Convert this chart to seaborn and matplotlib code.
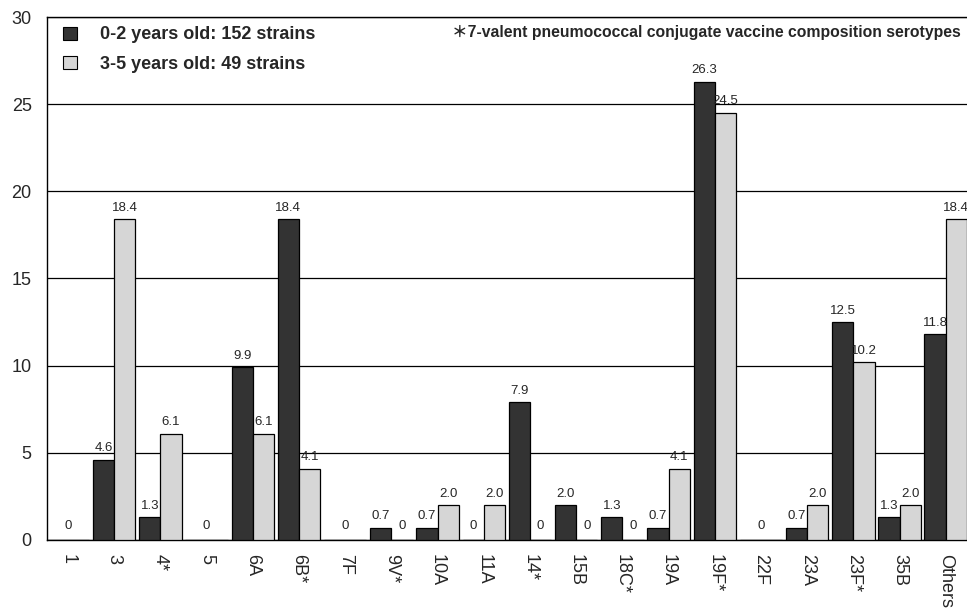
import matplotlib
matplotlib.use("Agg")
import matplotlib.pyplot as plt
import seaborn as sns
import pandas as pd
import numpy as np

serotypes = ["1", "3", "4*", "5", "6A", "6B*", "7F", "9V*", "10A", "11A",
             "14*", "15B", "18C*", "19A", "19F*", "22F", "23A", "23F*", "35B", "Others"]
age_0_2 = [0, 4.6, 1.3, 0, 9.9, 18.4, 0, 0.7, 0.7, 0,
           7.9, 2.0, 1.3, 0.7, 26.3, 0, 0.7, 12.5, 1.3, 11.8]
age_3_5 = [0, 18.4, 6.1, 0, 6.1, 4.1, 0, 0, 2.0, 2.0,
           0, 0, 0, 4.1, 24.5, 0, 2.0, 10.2, 2.0, 18.4]
group_labels = ["0-2 years old: 152 strains", "3-5 years old: 49 strains"]
note_text = "\uff0a7-valent pneumococcal conjugate vaccine composition serotypes"
y_ticks = [0, 5, 10, 15, 20, 25, 30]

df = pd.DataFrame({
    "serotype": serotypes * 2,
    "value": age_0_2 + age_3_5,
    "group": [group_labels[0]] * len(serotypes) + [group_labels[1]] * len(serotypes),
})

sns.set_theme(style="white")
plt.rcParams["font.family"] = ["Liberation Sans", "DejaVu Sans", "Noto Sans CJK JP"]

fig = plt.figure(figsize=(9.67, 6.16), dpi=100)
ax = fig.add_axes([0.0486, 0.1234, 0.9514, 0.849])

sns.barplot(data=df, x="serotype", y="value", hue="group",
            palette=["#333333", "#d6d6d6"], width=0.92,
            edgecolor="black", linewidth=0.9, ax=ax, zorder=3, saturation=1)

ax.set_xlim(-0.455, 19.46)
ax.set_ylim(0, 30)
ax.set_yticks(y_ticks)
ax.yaxis.grid(True, color="black", linewidth=0.9, zorder=0)
ax.xaxis.grid(False)
ax.set_axisbelow(True)
ax.set_xlabel("")
ax.set_ylabel("")
ax.tick_params(axis="y", labelsize=13, pad=11, length=0)
ax.tick_params(axis="x", length=0, pad=10)
for lbl in ax.get_xticklabels():
    lbl.set_rotation(-90)
    lbl.set_fontsize(13)
    lbl.set_va("top")
    lbl.set_ha("center")

for side in ["left", "bottom", "top"]:
    ax.spines[side].set_visible(True)
    ax.spines[side].set_color("black")
    ax.spines[side].set_linewidth(1.0)
ax.spines["right"].set_visible(False)

# value labels
narrow = ["Liberation Sans Narrow", "Liberation Sans", "DejaVu Sans"]
c0, c1 = ax.containers[0], ax.containers[1]
for i in range(len(serotypes)):
    b0, b1 = c0[i], c1[i]
    v0, v1 = age_0_2[i], age_3_5[i]
    if v0 == 0 and v1 == 0:
        xc = (b0.get_x() + b1.get_x() + b1.get_width()) / 2
        ax.annotate("0", (xc, 0), xytext=(0, 6), textcoords="offset points",
                    ha="center", va="bottom", fontsize=9.5, family=narrow)
        continue
    for b, v in ((b0, v0), (b1, v1)):
        txt = "0" if v == 0 else f"{v:.1f}"
        ax.annotate(txt, (b.get_x() + b.get_width() / 2, v), xytext=(0, 6 if v == 0 else 4),
                    textcoords="offset points", ha="center", va="bottom",
                    fontsize=9.5, family=narrow)

leg = ax.legend(loc="upper left", frameon=False, bbox_to_anchor=(0.0, 1.013),
                prop={"weight": "bold", "size": 13}, handlelength=0.75, handleheight=0.75,
                handletextpad=1.3, labelspacing=0.68)
for h in leg.legend_handles:
    h.set_edgecolor("black")
    h.set_linewidth(0.8)

ax.text(0.993, 0.984, note_text, transform=ax.transAxes, ha="right", va="top",
        fontsize=11.3, fontweight="bold")

fig.savefig("out.png", dpi=100)
